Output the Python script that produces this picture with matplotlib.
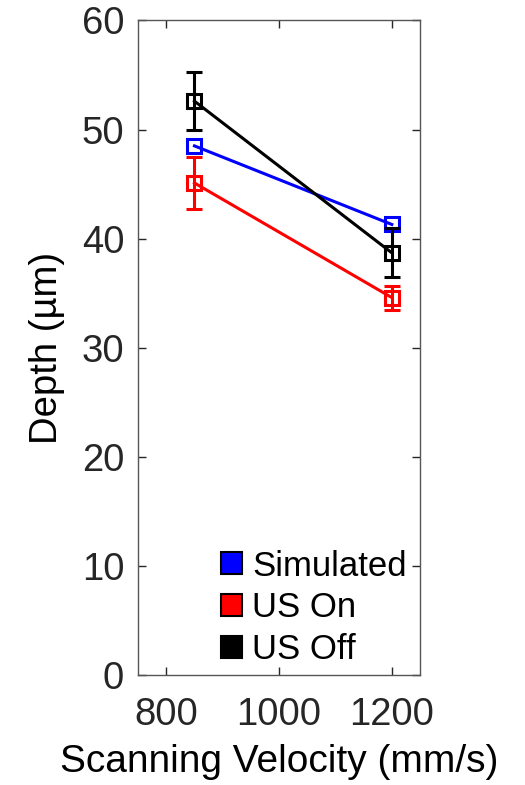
import matplotlib
matplotlib.use('Agg')
import matplotlib.pyplot as plt
from matplotlib.patches import Patch

plt.rcParams['font.family'] = ['Liberation Sans', 'DejaVu Sans']

velocity = [850, 1200]
simulated = [48.5, 41.3]
us_on = [45.1, 34.6]
us_on_err = [2.4, 1.1]
us_off = [52.6, 38.7]
us_off_err = [2.65, 2.25]

labels = ['Simulated', 'US On', 'US Off']
colors = ['#0000ff', '#ff0000', '#000000']

fig = plt.figure(figsize=(5.25, 7.85), dpi=100)
ax = fig.add_axes([0.263, 0.140, 0.537, 0.834])

# lines with open square markers
ax.plot(velocity, simulated, color=colors[0], lw=2.2, marker='s', ms=10,
        mfc='none', mew=2.2, zorder=3)
ax.errorbar(velocity, us_on, yerr=us_on_err, color=colors[1], lw=2.2,
            marker='s', ms=10, mfc='none', mew=2.2, capsize=5.5, capthick=2.2,
            elinewidth=2.2, zorder=3)
ax.errorbar(velocity, us_off, yerr=us_off_err, color=colors[2], lw=2.2,
            marker='s', ms=10, mfc='none', mew=2.2, capsize=5.5, capthick=2.2,
            elinewidth=2.2, zorder=4)

ax.set_xlim(750, 1250)
ax.set_ylim(0, 60)
ax.set_xticks([800, 1000, 1200])
ax.set_yticks(range(0, 61, 10))

ax.tick_params(direction='in', top=True, right=True, length=6, width=1,
               labelsize=27.5, colors='#262626')
ax.tick_params(axis='x', pad=16)
ax.tick_params(axis='y', pad=10)
for s in ax.spines.values():
    s.set_color('#555555')
    s.set_linewidth(1)

ax.set_xlabel('Scanning Velocity (mm/s)', fontsize=28, labelpad=8)
ax.set_ylabel('Depth (µm)', fontsize=27.5, labelpad=12)

handles = [Patch(facecolor=c, edgecolor='black', lw=1.5) for c in colors]
ax.legend(handles, labels, loc='lower right', frameon=False, fontsize=25,
          handlelength=0.6, handleheight=0.6, handletextpad=0.3,
          labelspacing=0.25, borderaxespad=0.2, bbox_to_anchor=(1.028, -0.018))

fig.savefig('out.png', dpi=100)
